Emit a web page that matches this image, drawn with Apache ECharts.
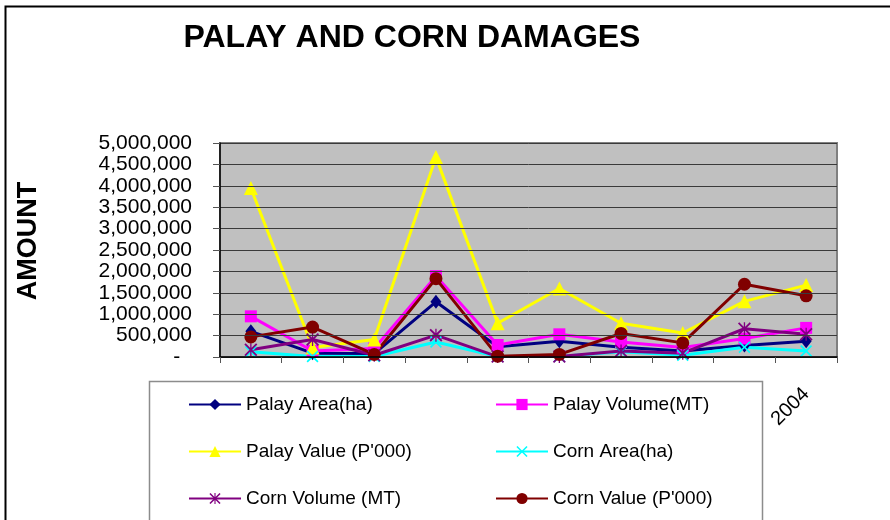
<!DOCTYPE html>
<html>
<head>
<meta charset="utf-8">
<script src="https://cdn.jsdelivr.net/npm/echarts@6/dist/echarts.min.js"></script>
<style>
  html, body { margin: 0; padding: 0; background: #ffffff; }
  #chart { width: 890px; height: 520px; }
</style>
</head>
<body>
<div id="chart"></div>
<script>
// ---- data ----
const xTickLabels = ['', '', '', '', '', '', '', '', '', '2004'];
const yTickValues = [0, 500000, 1000000, 1500000, 2000000, 2500000, 3000000, 3500000, 4000000, 4500000, 5000000];

const palayArea   = [600000, 90000, 80000, 1290000, 240000, 370000, 230000, 140000, 270000, 370000];
const palayVolume = [950000, 140000, 200000, 1890000, 280000, 530000, 350000, 220000, 430000, 680000];
const palayValue  = [3950000, 220000, 410000, 4670000, 790000, 1600000, 790000, 560000, 1300000, 1680000];
const cornArea    = [120000, 10000, 10000, 350000, 10000, 10000, 120000, 40000, 230000, 140000];
const cornVolume  = [170000, 410000, 40000, 510000, 10000, 10000, 140000, 90000, 660000, 530000];
const cornValue   = [470000, 700000, 60000, 1830000, 20000, 60000, 550000, 330000, 1700000, 1430000];

const seriesNames = ['Palay Area(ha)', 'Palay Volume(MT)', "Palay Value (P'000)", 'Corn Area(ha)', 'Corn Volume (MT)', "Corn Value (P'000)"];

const FONT = "'Liberation Sans', Arial, sans-serif";

const xPath = 'path://M0,2 L2,0 L10,8 L18,0 L20,2 L12,10 L20,18 L18,20 L10,12 L2,20 L0,18 L8,10 Z';
const starPath = 'path://M0,2 L2,0 L10,8 L18,0 L20,2 L12,10 L20,18 L18,20 L10,12 L2,20 L0,18 L8,10 Z M9,0 L11,0 L11,20 L9,20 Z';

function fmt(v) {
  if (v === 0) return '-  ';
  return String(v).replace(/\B(?=(\d{3})+(?!\d))/g, ',');
}

function mkSeries(name, data, color, symbol, size) {
  return {
    name: name,
    type: 'line',
    data: data,
    symbol: symbol,
    symbolSize: size,
    showAllSymbol: true,
    lineStyle: { color: color, width: 3 },
    itemStyle: { color: color, borderWidth: 0 },
    emphasis: { disabled: true },
    z: 3
  };
}

const chart = echarts.init(document.getElementById('chart'), null, { renderer: 'canvas' });

chart.setOption({
  animation: false,
  backgroundColor: '#ffffff',
  textStyle: { fontFamily: FONT },
  graphic: [
    {
      type: 'rect', left: 3, top: 4, z: -10, silent: true,
      shape: { x: 0, y: 0, width: 900, height: 530 },
      style: { fill: 'none', stroke: '#000000', lineWidth: 2 }
    },
    {
      type: 'rect', z: -5, silent: true,
      shape: { x: 149.5, y: 381.5, width: 613, height: 160 },
      style: { fill: '#ffffff', stroke: '#8c8c8c', lineWidth: 1.5 }
    },
    {
      type: 'text', silent: true,
      style: {
        text: 'PALAY AND CORN DAMAGES', x: 412, y: 38,
        font: 'bold 32px ' + FONT, fill: '#000000',
        textAlign: 'center', textVerticalAlign: 'middle'
      }
    },
    {
      type: 'text', silent: true,
      x: 29, y: 241, rotation: Math.PI / 2,
      style: {
        text: 'AMOUNT', x: 0, y: 0,
        font: 'bold 27px ' + FONT, fill: '#000000',
        textAlign: 'center', textVerticalAlign: 'middle'
      }
    }
  ],
  grid: {
    left: 220, top: 143, width: 617, height: 214,
    show: true, backgroundColor: '#C0C0C0',
    borderColor: '#808080', borderWidth: 2,
    containLabel: false
  },
  legend: [
    {
      orient: 'vertical', left: 188, top: 395, padding: 0,
      itemWidth: 52, itemHeight: 14, itemGap: 28,
      selectedMode: false,
      data: [seriesNames[0], seriesNames[2], seriesNames[4]],
      textStyle: { fontSize: 19, color: '#000000', fontFamily: FONT }
    },
    {
      orient: 'vertical', left: 495, top: 395, padding: 0,
      itemWidth: 52, itemHeight: 14, itemGap: 28,
      selectedMode: false,
      data: [seriesNames[1], seriesNames[3], seriesNames[5]],
      textStyle: { fontSize: 19, color: '#000000', fontFamily: FONT }
    }
  ],
  xAxis: {
    type: 'category',
    data: xTickLabels,
    boundaryGap: true,
    axisLine: { show: true, lineStyle: { color: '#000000', width: 1.5 } },
    axisTick: { show: true, length: 6, lineStyle: { color: '#555555', width: 1 }, interval: 0 },
    axisLabel: {
      interval: 0, rotate: 45, margin: 34,
      fontSize: 20, color: '#000000', fontFamily: FONT
    },
    splitLine: { show: false },
    z: 5
  },
  yAxis: {
    type: 'value',
    min: 0, max: 5000000, interval: 500000,
    axisLine: { show: true, lineStyle: { color: '#000000', width: 1.5 } },
    axisTick: { show: true, length: 7, lineStyle: { color: '#555555', width: 1 } },
    axisLabel: {
      margin: 28, fontSize: 21, color: '#000000', fontFamily: FONT,
      formatter: function (v) { return yTickValues.indexOf(v) >= 0 ? fmt(v) : ''; }
    },
    splitLine: { show: true, lineStyle: { color: '#3a3a3a', width: 1 } },
    z: 5
  },
  series: [
    mkSeries(seriesNames[0], palayArea, '#000080', 'diamond', [11, 14]),
    mkSeries(seriesNames[1], palayVolume, '#FF00FF', 'rect', 12),
    mkSeries(seriesNames[2], palayValue, '#FFFF00', 'triangle', 14),
    mkSeries(seriesNames[3], cornArea, '#00FFFF', xPath, 12),
    mkSeries(seriesNames[4], cornVolume, '#800080', starPath, 13),
    mkSeries(seriesNames[5], cornValue, '#800000', 'circle', 13)
  ]
});
</script>
</body>
</html>
